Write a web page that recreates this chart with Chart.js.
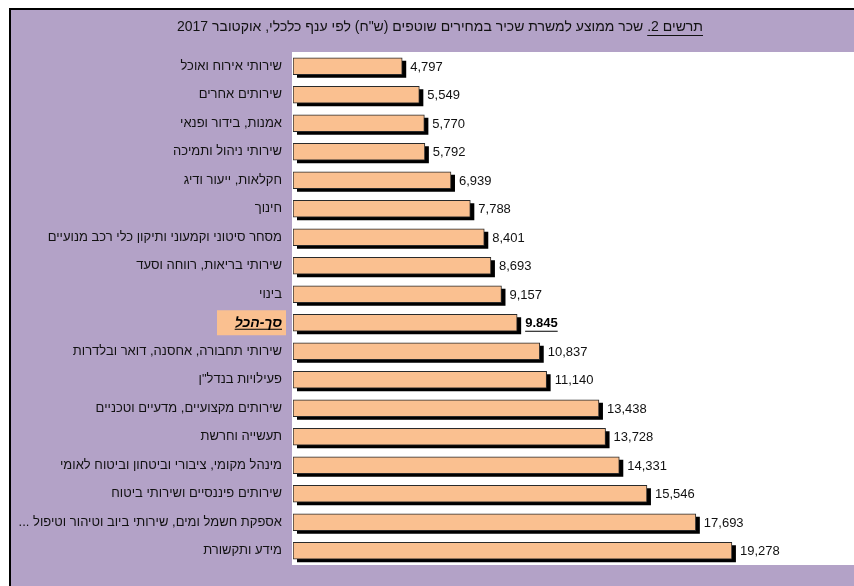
<!DOCTYPE html>
<html lang="he">
<head>
<meta charset="utf-8">
<script src="https://cdn.jsdelivr.net/npm/chart.js@4/dist/chart.umd.min.js"></script>
<style>
  html, body { margin: 0; padding: 0; background: #fff; overflow: hidden; }
  canvas { display: block; }
</style>
</head>
<body>
<canvas id="wageChart" width="854" height="586"></canvas>
<script>
const titleLead = 'תרשים 2.';
const titleRest = ' שכר ממוצע למשרת שכיר במחירים שוטפים (ש"ח) לפי ענף כלכלי, אוקטובר 2017';

const categories = [
  'שירותי אירוח ואוכל',
  'שירותים אחרים',
  'אמנות, בידור ופנאי',
  'שירותי ניהול ותמיכה',
  'חקלאות, ייעור ודיג',
  'חינוך',
  'מסחר סיטוני וקמעוני ותיקון כלי רכב מנועיים',
  'שירותי בריאות, רווחה וסעד',
  'בינוי',
  'סך-הכל',
  'שירותי תחבורה, אחסנה, דואר ובלדרות',
  'פעילויות בנדל"ן',
  'שירותים מקצועיים, מדעיים וטכניים',
  'תעשייה וחרשת',
  'מינהל מקומי, ציבורי וביטחון וביטוח לאומי',
  'שירותים פיננסיים ושירותי ביטוח',
  'אספקת חשמל ומים, שירותי ביוב וטיהור וטיפול ...',
  'מידע ותקשורת'
];
const wages = [4797, 5549, 5770, 5792, 6939, 7788, 8401, 8693, 9157, 9845,
  10837, 11140, 13438, 13728, 14331, 15546, 17693, 19278];
const wageLabels = ['4,797', '5,549', '5,770', '5,792', '6,939', '7,788', '8,401', '8,693', '9,157', '9.845',
  '10,837', '11,140', '13,438', '13,728', '14,331', '15,546', '17,693', '19,278'];
const totalIndex = 9;

const PURPLE = '#B3A2C7';
const PEACH = '#FAC090';
const FONT = '"Liberation Sans", Arial, sans-serif';

// background, frame and white plot area
const framePlugin = {
  id: 'frame',
  beforeDraw(chart) {
    const { ctx, chartArea: a, width, height } = chart;
    ctx.save();
    ctx.fillStyle = '#fff';
    ctx.fillRect(0, 0, width, height);
    ctx.fillStyle = PURPLE;
    ctx.fillRect(10, 9, width - 10, height - 9);
    ctx.fillStyle = '#000';
    ctx.fillRect(10, 8, width - 10, 2);
    ctx.fillRect(9, 8, 2, height - 8);
    ctx.fillStyle = '#fff';
    ctx.fillRect(a.left - 1, a.top, a.right - a.left + 1, a.bottom - a.top);
    ctx.restore();
  }
};

// hard black drop shadow under each bar, from the bar elements' own geometry
const shadowPlugin = {
  id: 'barShadow',
  beforeDatasetsDraw(chart) {
    const ctx = chart.ctx;
    ctx.save();
    ctx.fillStyle = '#000';
    chart.getDatasetMeta(0).data.forEach(bar => {
      const p = bar.getProps(['x', 'y', 'base', 'height'], true);
      ctx.fillRect(p.base + 4, p.y - p.height / 2 + 3, p.x - p.base, p.height);
    });
    ctx.restore();
  }
};

function underline(ctx, x1, x2, y) {
  ctx.fillRect(Math.min(x1, x2), y, Math.abs(x2 - x1), 1);
}

const textPlugin = {
  id: 'texts',
  afterDraw(chart) {
    const { ctx } = chart;
    const xs = chart.scales.x, ys = chart.scales.y;
    ctx.save();
    ctx.textBaseline = 'middle';
    ctx.fillStyle = '#111';

    // title
    ctx.font = '14px ' + FONT;
    ctx.direction = 'rtl';
    ctx.textAlign = 'right';
    const full = titleLead + titleRest;
    const tw = ctx.measureText(full).width;
    const right = 440 + tw / 2;
    ctx.fillText(full, right, 27);
    const lw = ctx.measureText(titleLead).width;
    underline(ctx, right - lw, right, 35);

    // category labels
    categories.forEach((name, i) => {
      const y = ys.getPixelForValue(i);
      ctx.direction = 'rtl';
      ctx.textAlign = 'right';
      if (i === totalIndex) {
        ctx.fillStyle = PEACH;
        ctx.fillRect(217, y - 12.5, 69, 25);
        ctx.fillStyle = '#000';
        ctx.font = 'italic bold 14px ' + FONT;
        ctx.fillText(name, 282, y);
        const w = ctx.measureText(name).width;
        underline(ctx, 282 - w, 282, y + 6);
        ctx.fillStyle = '#111';
      } else {
        ctx.font = '13px ' + FONT;
        ctx.fillText(name, 282, y);
      }
    });

    // value labels
    ctx.direction = 'ltr';
    ctx.textAlign = 'left';
    wages.forEach((v, i) => {
      const y = ys.getPixelForValue(i) + 1;
      const x = xs.getPixelForValue(v) + 8;
      if (i === totalIndex) {
        ctx.fillStyle = '#000';
        ctx.font = 'bold 13px ' + FONT;
        ctx.fillText(wageLabels[i], x, y);
        underline(ctx, x, x + ctx.measureText(wageLabels[i]).width, y + 7);
        ctx.fillStyle = '#111';
      } else {
        ctx.font = '13px ' + FONT;
        ctx.fillText(wageLabels[i], x, y);
      }
    });
    ctx.restore();
  }
};

new Chart(document.getElementById('wageChart'), {
  type: 'bar',
  data: {
    labels: categories,
    datasets: [{
      data: wages,
      backgroundColor: PEACH,
      borderColor: '#2a2a2a',
      borderWidth: 1,
      borderSkipped: false,
      barThickness: 17
    }]
  },
  options: {
    indexAxis: 'y',
    responsive: false,
    animation: false,
    layout: { padding: { left: 293, top: 52, right: 0, bottom: 21 } },
    plugins: {
      legend: { display: false },
      tooltip: { enabled: false },
      title: { display: false }
    },
    scales: {
      x: { display: false, min: 0, max: 24640 },
      y: { display: false }
    }
  },
  plugins: [framePlugin, shadowPlugin, textPlugin]
});
</script>
</body>
</html>
